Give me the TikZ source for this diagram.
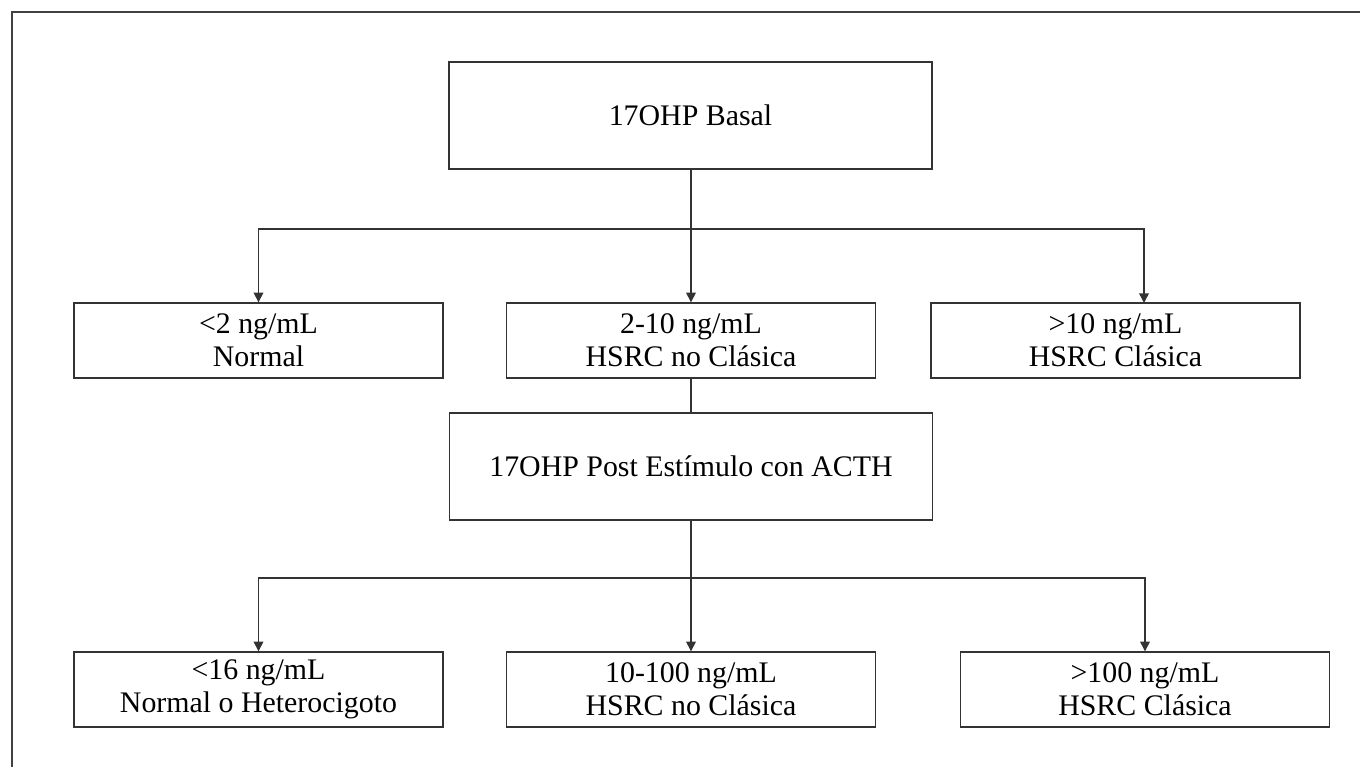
\documentclass[tikz,border=0pt]{standalone}
\usepackage{fontspec}
\setmainfont{Liberation Serif}
\usetikzlibrary{arrows.meta}

\begin{document}
\begin{tikzpicture}[
  x=0.02cm, y=-0.02cm,
  box/.style={draw=black!80, line width=0.8pt, inner sep=0pt, minimum width=7.38cm, minimum height=1.5cm, align=center, font=\fontsize{17}{18.7}\selectfont},
  bigbox/.style={box, minimum width=9.66cm, minimum height=2.14cm},
  arrow/.style={draw=black!80, line width=0.8pt, -{Triangle[length=5.5pt, width=5.5pt]}},
  link/.style={draw=black!80, line width=0.8pt},
]
  \useasboundingbox (0,0) rectangle (1360,767);
  \draw[black!75, line width=1.3pt] (12,767) |- (1360,12);

  \node[bigbox] (basal) at (690.5, 115.5) {17OHP Basal};
  \node[box] (low) at (258.5, 340.5) {<2 ng/mL\\Normal};
  \node[box] (mid) at (691, 340.5) {2-10 ng/mL\\HSRC no Clásica};
  \node[box] (high) at (1115.5, 340.5) {>10 ng/mL\\HSRC Clásica};

  \node[bigbox] (acth) at (691, 466.5) {17OHP Post Estímulo con ACTH};
  \node[box] (lowb) at (258.5, 689.5) {<16 ng/mL\\Normal o Heterocigoto};
  \node[box] (midb) at (691, 689.5) {10-100 ng/mL\\HSRC no Clásica};
  \node[box] (highb) at (1145, 689.5) {>100 ng/mL\\HSRC Clásica};

  \coordinate (split) at (691, 229);
  \coordinate (hitop) at (1144, 303);
  \coordinate (splitb) at (691, 578);

  \draw[link] (basal.south -| split) -- (split);
  \draw[arrow] (split) -| (low.north);
  \draw[arrow] (split) -- (mid.north);
  \draw[arrow] (split) -| (hitop);

  \draw[link] (mid.south) -- (acth.north -| mid.south);

  \draw[link] (acth.south) -- (splitb);
  \draw[arrow] (splitb) -| (lowb.north);
  \draw[arrow] (splitb) -- (midb.north);
  \draw[arrow] (splitb) -| (highb.north);
\end{tikzpicture}
\end{document}
